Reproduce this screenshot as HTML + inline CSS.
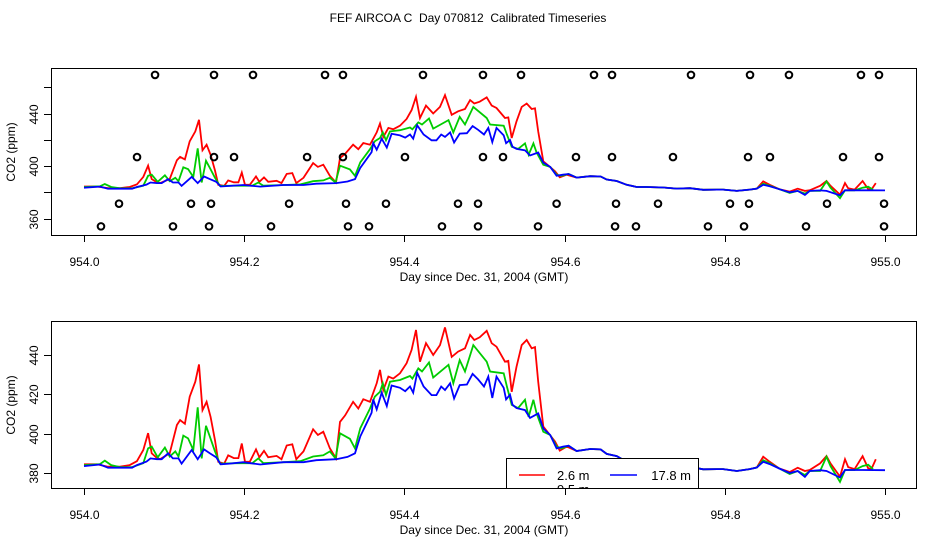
<!DOCTYPE html>
<html><head><meta charset="utf-8"><style>
html,body{margin:0;padding:0;background:#fff}
svg{display:block;font-family:"Liberation Sans",sans-serif}
</style></head><body>
<svg id="chart" width="936" height="540" viewBox="0 0 936 540">
<text x="468" y="22" text-anchor="middle" font-size="12" style="white-space:pre">FEF AIRCOA C  Day 070812  Calibrated Timeseries</text>
</svg>
<script>
const redT=[0,.016,.03,.045,.057,.066,.074,.080,.0845,.09,.095,.107,.116,.120,.126,.132,.139,.1436,.148,.153,.158,.1635,.1677,.175,.180,.187,.1927,.197,.201,.207,.2147,.219,.2247,.23,.2405,.2466,.253,.26,.265,.274,.286,.292,.2988,.307,.3146,.3196,.326,.336,.3425,.3487,.357,.3654,.3695,.3737,.380,.386,.3945,.4028,.409,.4145,.4195,.427,.436,.4444,.4507,.459,.467,.4757,.482,.4873,.494,.5027,.509,.515,.5256,.5297,.534,.540,.5464,.5527,.5589,.563,.567,.5734,.5818,.588,.594,.6026,.615,.632,.645,.6525,.665,.6775,.69,.702,.723,.74,.7565,.773,.79,.798,.815,.831,.84,.848,.856,.868,.881,.891,.9,.906,.919,.927,.932,.9438,.95,.954,.962,.972,.979,.983,.9885];
const redV=[384.4,384.4,383.2,383.2,384,386,391.7,400.3,390,388,387,390,404.4,406.9,405,418.8,426.4,435.2,412,416.2,408.5,396.6,385.7,384.8,389,387.6,387.6,395,385.7,385.7,392,388,391.3,388,388.7,387,394,394.6,387,391,402.2,399.3,401,392.5,387.4,406,409.3,416.2,412.8,417.5,416.2,425.6,432.4,422.2,429,428,430.7,435.8,442.6,452.7,436.6,446,440,445,454,439,441.7,443.4,450.2,447.6,449,452.3,446,444.2,436.6,437,421.3,434,445,447.6,443.4,444,426.4,403.6,399.3,396,391.4,393.4,391.2,392.2,392,389.7,388.6,385.7,384,384,383.6,382.8,383.1,381.9,382,382,381,382,382.8,388.3,385.7,382.3,380.5,382.7,381,381.5,384.9,388.6,384.9,378.1,387,383,382,388.6,382.4,382,387];
const greenT=[0,.02,.026,.034,.045,.06,.074,.080,.0845,.092,.101,.107,.114,.118,.124,.130,.1365,.142,.147,.1523,.157,.1635,.1697,.19,.21,.2176,.224,.25,.27,.286,.2988,.307,.314,.3196,.332,.3383,.345,.357,.363,.3695,.373,.377,.382,.3945,.407,.41,.4174,.422,.4307,.436,.455,.461,.469,.4757,.486,.5027,.507,.524,.528,.534,.542,.5506,.555,.561,.565,.5734,.582,.590,.596,.605,.615,.632,.645,.6525,.665,.6775,.69,.702,.723,.74,.7565,.773,.79,.798,.815,.831,.84,.848,.856,.868,.881,.891,.9,.906,.919,.927,.932,.9438,.95,.962,.972,.979,.985];
const greenV=[384,384.5,386.3,384,383,383,385,392.5,393.4,388,392.9,388.4,391,388.4,399,397.6,391.7,413.4,387.4,404,398.6,391,384.8,385,385,387.4,385,385.5,386,388.4,389,391,387.4,400.2,397.4,392.5,402.8,412.8,418.8,421.3,425.6,419.6,426.4,427.3,429.3,428,433.2,431.6,436.2,428.5,435,425.6,437.4,431.6,445,436.6,431.6,430.7,424,414.6,413,417.2,408.5,417.2,410.3,401,399.3,393.4,392.5,393.9,391.2,392.2,392,389.7,388.6,385.7,384,384,383.6,382.8,383.1,381.9,382,382,381,382,382.8,386.5,385,382.3,379.5,381,379,381,381,388.3,383.5,375.5,381.5,381.5,383.5,384.2,382];
const blueT=[0,.02,.03,.06,.066,.078,.083,.091,.097,.105,.111,.118,.1218,.1344,.142,.15,.157,.165,.1706,.182,.199,.22,.249,.274,.29,.315,.329,.3383,.345,.353,.359,.361,.3654,.3716,.378,.384,.3945,.401,.407,.411,.416,.424,.434,.440,.446,.4507,.457,.462,.469,.478,.4852,.492,.4994,.5047,.5097,.515,.524,.527,.5318,.535,.540,.5506,.5568,.567,.5734,.582,.590,.598,.605,.615,.632,.645,.6525,.665,.6775,.69,.702,.723,.74,.7565,.773,.79,.798,.815,.831,.84,.848,.856,.868,.881,.891,.9,.906,.919,.927,.9438,.95,.962,.972,1.0];
const blueV=[383.5,384.3,382.7,382.7,384,385.8,387.4,387,387,390,387.4,387.4,384.8,391.7,387,392,390,388,384.4,384.8,385.5,384.3,385.5,385.5,386.5,387,388.2,390,398.6,405.5,410.6,417.4,412.4,420.8,414,424.5,423.3,421.6,424,420.8,431,424,419.6,419.6,424,422.2,425.6,417.9,424.7,425,430.4,427.6,424,429,418.2,429,423.3,417.4,419.8,414.7,413,412,408,410.3,402.6,399.3,392.5,393.4,393.9,391.2,392.2,392,389.7,388.6,385.7,384,384,383.6,382.8,383.1,381.9,382,382,381,382,382.8,385.7,384.5,382.3,380,381,378,381,381.4,381,377.7,381.5,381.5,381.5,381.4];
const xTicks=[954.0,954.2,954.4,954.6,954.8,955.0];
const xTickLabels=["954.0","954.2","954.4","954.6","954.8","955.0"];
const topYTicks=[360,380,400,420,440,460];
const topYLabels=["360","","400","","440",""];
const botYTicks=[380,400,420,440];
const botYLabels=["380","400","420","440"];
const circleDays=[[.0887,.1623,.2110,.3009,.3233,.4232,.4981,.5456,.6367,.6592,.7578,.8315,.8801,.9700,.9925],[.0662,.1623,.1873,.2785,.3233,.4007,.4981,.5231,.6142,.6592,.7353,.8290,.8564,.9476,.9925],[.0437,.1336,.1586,.2560,.3271,.3770,.4669,.4919,.5900,.6642,.7166,.8065,.8302,.9276,.9988],[.0212,.1111,.1561,.2335,.3296,.3558,.4469,.4919,.5668,.6630,.6891,.7790,.8240,.9014,.9988]];
const circleLevels=[469.4,406.8,371.3,354];

const NS="http://www.w3.org/2000/svg";
const svg=document.getElementById('chart');
function mk(tag,attrs,parent){const e=document.createElementNS(NS,tag);for(const k in attrs)e.setAttribute(k,attrs[k]);(parent||svg).appendChild(e);return e;}
function xScale(d){return 84+(d-954)*801;}
const panels=[
 {top:68,bot:235,y0:360,py0:218.5,ppp:1.3125,yt:topYTicks,yl:topYLabels,circles:true,lab:152,name:'top'},
 {top:321,bot:488,y0:380,py0:473,ppp:1.967,yt:botYTicks,yl:botYLabels,circles:false,lab:405,name:'bottom'}];
panels.forEach((p,pi)=>{
 const ys=v=>p.py0-(v-p.y0)*p.ppp;
 const g=mk('g',{});
 
 
 const cid='clip'+pi;
 const cp=mk('clipPath',{id:cid},g);mk('rect',{x:51,y:p.top,width:866,height:p.bot-p.top},cp);
 const plot=mk('g',{'clip-path':'url(#'+cid+')'},g);
 [[redT,redV,'#ff0000','red-series'],[greenT,greenV,'#00cc00','green-series'],[blueT,blueV,'#0000ff','blue-series']].forEach(s=>{
  const pts=s[0].map((t,i)=>xScale(954+t).toFixed(1)+','+ys(s[1][i]).toFixed(1)).join(' ');
  const pl=mk('polyline',{points:pts,fill:'none',stroke:s[2],'stroke-width':1.8,'stroke-linejoin':'miter'},plot);
  
  
 });
 if(p.circles){
  circleDays.forEach((row,ri)=>row.forEach(d=>{
   const c=mk('circle',{cx:xScale(954+d),cy:ys(circleLevels[ri]),r:3.3,fill:'none',stroke:'#000','stroke-width':2},plot);
   
   
  }));
 } else {
  const lg=mk('g',{},plot);
  
  
  mk('rect',{x:506.5,y:458.5,width:192,height:40,fill:'#fff',stroke:'#000','stroke-width':1},lg);
  mk('line',{x1:519,y1:475,x2:545,y2:475,stroke:'#ff0000','stroke-width':1.5},lg);
  const t1=mk('text',{x:557,y:480,'font-size':13},lg);t1.textContent='2.6 m';
  
  
  mk('line',{x1:610,y1:475,x2:637,y2:475,stroke:'#0000ff','stroke-width':1.5},lg);
  const t2=mk('text',{x:691,y:480,'font-size':13,'text-anchor':'end'},lg);t2.textContent='17.8 m';
  
  
  const t3=mk('text',{x:557,y:494,'font-size':13},lg);t3.textContent='9.5 m';
  
  
 }
 mk('rect',{x:51.5,y:p.top+.5,width:865,height:p.bot-p.top,fill:'none',stroke:'#000','stroke-width':1},g);
 xTicks.forEach((d,i)=>{
  const x=Math.round(xScale(d))+.5;
  mk('line',{x1:x,y1:p.bot,x2:x,y2:p.bot+7,stroke:'#000'},g);
  const t=mk('text',{x:x,y:p.bot+31,'font-size':12,'text-anchor':'middle'},g);t.textContent=xTickLabels[i];
  
  
 });
 p.yt.forEach((v,i)=>{
  const y=Math.round(ys(v))+.5;
  mk('line',{x1:44,y1:y,x2:51,y2:y,stroke:'#000'},g);
  if(p.yl[i]){const t=mk('text',{x:0,y:0,'font-size':12,'text-anchor':'middle',transform:'translate(38,'+y+') rotate(-90)'},g);t.textContent=p.yl[i];
  
  }
 });
 const xt=mk('text',{x:484,y:p.bot+46,'font-size':12,'text-anchor':'middle'},g);xt.textContent='Day since Dec. 31, 2004 (GMT)';
 
 
 const yt=mk('text',{x:0,y:0,'font-size':12,'text-anchor':'middle',transform:'translate(15,'+p.lab+') rotate(-90)'},g);yt.textContent='CO2 (ppm)';
 
 
});
</script>
</body></html>
